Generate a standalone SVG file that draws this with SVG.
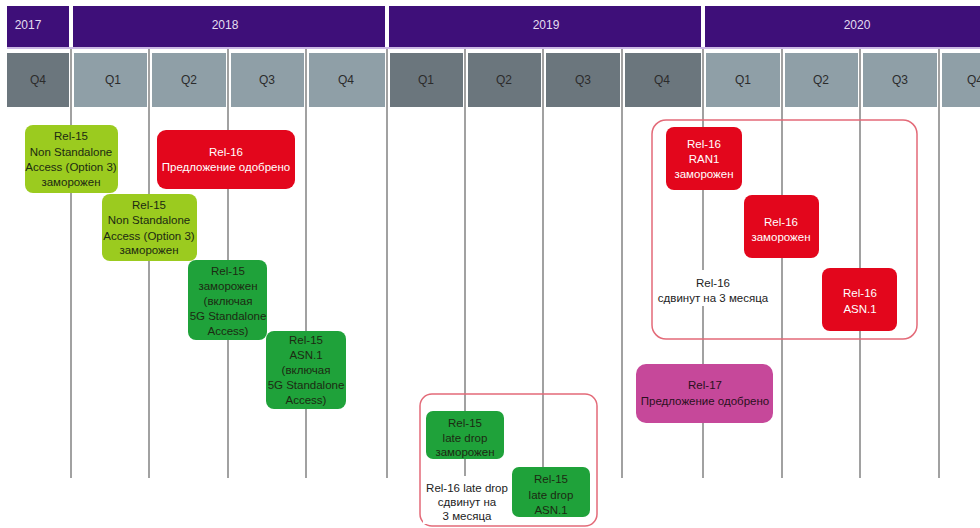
<svg xmlns="http://www.w3.org/2000/svg" width="980" height="528" viewBox="0 0 980 528">
<style>
text{font-family:"Liberation Sans",Arial,sans-serif;font-size:11.5px;text-anchor:middle;dominant-baseline:central}
.yr{fill:#3e0f79}
.yt{fill:#e4dcf0;font-size:12px}
.ql{fill:#8f9fa7}
.qd{fill:#6b767d}
.qt{fill:#2b2b2b;font-size:12px}
.grid{stroke:#8a8a8a;stroke-width:1.6}
.lime{fill:#9bcb1f}
.grn{fill:#1fa23a}
.red{fill:#e3061c}
.mag{fill:#c6489a}
.dk{fill:#1c2a12}
.wt{fill:#ffffff}
.mt{fill:#2a1020}
.frame{fill:none;stroke:#e36a78;stroke-width:1.5}
.bt{fill:#222}
</style>
<rect width="980" height="528" fill="#ffffff"/>
<g id="header">
<rect class="yr" x="7" y="6" width="62" height="41"/>
<rect class="yr" x="73" y="6" width="312" height="41"/>
<rect class="yr" x="389" y="6" width="312" height="41"/>
<rect class="yr" x="705" y="6" width="275" height="41"/>
<rect x="7" y="47" width="973" height="2" fill="#cbb8e4"/>
<text class="yt" x="28" y="25">2017</text>
<text class="yt" x="225" y="25">2018</text>
<text class="yt" x="546" y="25">2019</text>
<text class="yt" x="857" y="25">2020</text>
</g>
<g id="gridlines">
<line class="grid" x1="71" y1="49" x2="71" y2="478"/>
<line class="grid" x1="149" y1="49" x2="149" y2="478"/>
<line class="grid" x1="228" y1="49" x2="228" y2="478"/>
<line class="grid" x1="306" y1="49" x2="306" y2="478"/>
<line class="grid" x1="387" y1="49" x2="387" y2="478"/>
<line class="grid" x1="465" y1="49" x2="465" y2="478"/>
<line class="grid" x1="543" y1="49" x2="543" y2="478"/>
<line class="grid" x1="622" y1="49" x2="622" y2="478"/>
<line class="grid" x1="703" y1="49" x2="703" y2="478"/>
<line class="grid" x1="782" y1="49" x2="782" y2="478"/>
<line class="grid" x1="860" y1="49" x2="860" y2="478"/>
<line class="grid" x1="939" y1="49" x2="939" y2="478"/>
</g>
<g id="quarters">
<rect class="qd" x="7" y="53" width="62" height="54"/>
<rect class="ql" x="74" y="53" width="73" height="54"/>
<rect class="ql" x="152" y="53" width="74" height="54"/>
<rect class="ql" x="231" y="53" width="73" height="54"/>
<rect class="ql" x="309" y="53" width="76" height="54"/>
<rect class="qd" x="390" y="53" width="73" height="54"/>
<rect class="qd" x="468" y="53" width="73" height="54"/>
<rect class="qd" x="546" y="53" width="74" height="54"/>
<rect class="qd" x="625" y="53" width="76" height="54"/>
<rect class="ql" x="706" y="53" width="74" height="54"/>
<rect class="ql" x="785" y="53" width="73" height="54"/>
<rect class="ql" x="863" y="53" width="74" height="54"/>
<rect class="ql" x="942" y="53" width="38" height="54"/>
<text class="qt" x="38" y="80">Q4</text>
<text class="qt" x="113" y="80">Q1</text>
<text class="qt" x="189" y="80">Q2</text>
<text class="qt" x="267" y="80">Q3</text>
<text class="qt" x="346" y="80">Q4</text>
<text class="qt" x="426" y="80">Q1</text>
<text class="qt" x="504" y="80">Q2</text>
<text class="qt" x="583" y="80">Q3</text>
<text class="qt" x="662" y="80">Q4</text>
<text class="qt" x="743" y="80">Q1</text>
<text class="qt" x="821" y="80">Q2</text>
<text class="qt" x="900" y="80">Q3</text>
<text class="qt" x="975" y="80">Q4</text>
</g>
<g id="rel16-delay-frame">
<rect class="frame" x="652" y="120" width="265" height="219" rx="14"/>
<rect x="657" y="270" width="112" height="36" fill="#ffffff"/>
<text class="bt" x="713" y="283">Rel-16</text>
<text class="bt" x="713" y="298">сдвинут на 3 месяца</text>
</g>
<g id="late-drop-frame">
<rect class="frame" x="420" y="394" width="177" height="132" rx="12"/>
<rect x="423" y="476" width="88" height="48" fill="#ffffff"/>
<text class="bt" x="467" y="488">Rel-16 late drop</text>
<text class="bt" x="467" y="502">сдвинут на</text>
<text class="bt" x="467" y="516">3 месяца</text>
</g>
<g id="rel15-nsa-1">
<rect class="lime" x="25" y="125" width="93" height="68" rx="8"/>
<text class="dk" x="71" y="136">Rel-15</text>
<text class="dk" x="71" y="151.5">Non Standalone</text>
<text class="dk" x="71" y="167">Access (Option 3)</text>
<text class="dk" x="71" y="182">заморожен</text>
</g>
<g id="rel16-proposal">
<rect class="red" x="157" y="130" width="138" height="59" rx="9"/>
<text class="wt" x="226" y="152">Rel-16</text>
<text class="wt" x="226" y="167">Предложение одобрено</text>
</g>
<g id="rel15-nsa-2">
<rect class="lime" x="102" y="194" width="95" height="67" rx="8"/>
<text class="dk" x="149" y="205">Rel-15</text>
<text class="dk" x="149" y="220">Non Standalone</text>
<text class="dk" x="149" y="235.5">Access (Option 3)</text>
<text class="dk" x="149" y="250">заморожен</text>
</g>
<g id="rel15-frozen-sa">
<rect class="grn" x="188" y="260" width="79" height="80" rx="8"/>
<text class="dk" x="228" y="271">Rel-15</text>
<text class="dk" x="228" y="286">заморожен</text>
<text class="dk" x="228" y="301">(включая</text>
<text class="dk" x="228" y="316">5G Standalone</text>
<text class="dk" x="228" y="331">Access)</text>
</g>
<g id="rel15-asn1">
<rect class="grn" x="266" y="331" width="80" height="78" rx="8"/>
<text class="dk" x="306" y="340">Rel-15</text>
<text class="dk" x="306" y="355">ASN.1</text>
<text class="dk" x="306" y="370">(включая</text>
<text class="dk" x="306" y="385">5G Standalone</text>
<text class="dk" x="306" y="400">Access)</text>
</g>
<g id="rel16-ran1">
<rect class="red" x="666" y="127" width="76" height="63" rx="8"/>
<text class="wt" x="704" y="144">Rel-16</text>
<text class="wt" x="704" y="159">RAN1</text>
<text class="wt" x="704" y="174">заморожен</text>
</g>
<g id="rel16-frozen">
<rect class="red" x="744" y="195" width="75" height="63" rx="8"/>
<text class="wt" x="781" y="222">Rel-16</text>
<text class="wt" x="781" y="237">заморожен</text>
</g>
<g id="rel16-asn1">
<rect class="red" x="822" y="268" width="75" height="63" rx="8"/>
<text class="wt" x="860" y="293">Rel-16</text>
<text class="wt" x="860" y="309">ASN.1</text>
</g>
<g id="rel17-proposal">
<rect class="mag" x="636" y="364" width="137" height="59" rx="10"/>
<text class="mt" x="705" y="385">Rel-17</text>
<text class="mt" x="705" y="401">Предложение одобрено</text>
</g>
<g id="rel15-late-frozen">
<rect class="grn" x="426" y="411" width="78" height="48" rx="7"/>
<text class="dk" x="465" y="423">Rel-15</text>
<text class="dk" x="465" y="437.5">late drop</text>
<text class="dk" x="465" y="452">заморожен</text>
</g>
<g id="rel15-late-asn1">
<rect class="grn" x="512" y="467" width="78" height="50" rx="7"/>
<text class="dk" x="551" y="479">Rel-15</text>
<text class="dk" x="551" y="494.5">late drop</text>
<text class="dk" x="551" y="510">ASN.1</text>
</g>
</svg>
